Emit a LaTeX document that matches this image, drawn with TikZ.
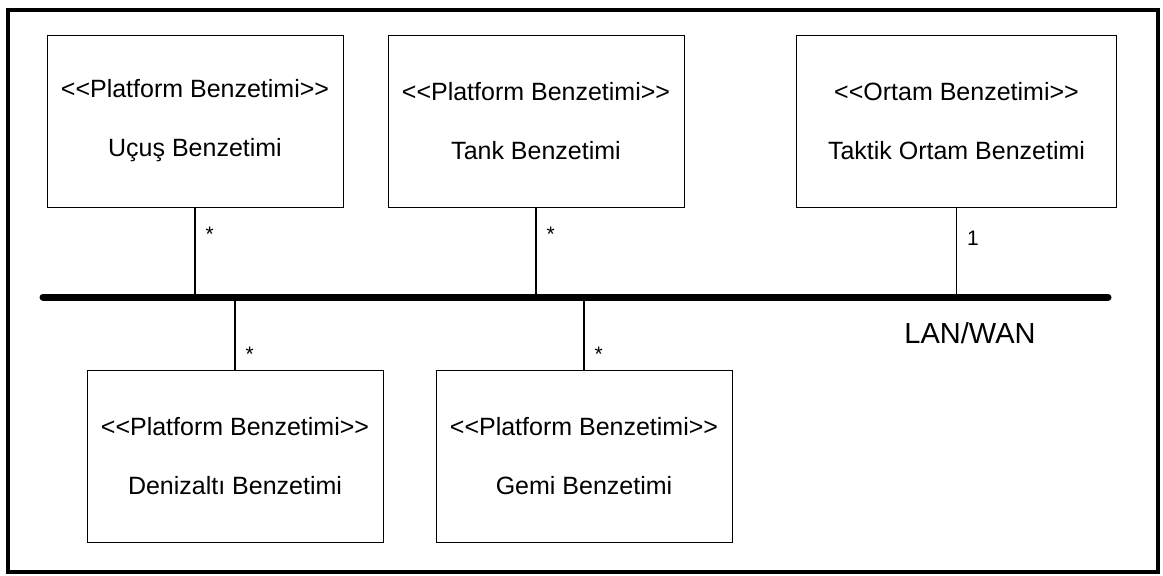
\documentclass[tikz,border=0pt]{standalone}
\usepackage{fontspec}
\newfontfamily\simfont{Liberation Sans}
\usetikzlibrary{positioning}

\begin{document}
\begin{tikzpicture}[x=0.5pt,y=-0.5pt,auto,semithick]

  \tikzstyle{sim}=[rectangle,draw,line width=0.5pt,minimum width=148pt,
                   minimum height=86pt,align=center,
                   font=\simfont\fontsize{12.5}{14}\selectfont]
  \tikzstyle{link}=[line width=0.6pt]
  \tikzstyle{mult}=[font=\simfont\fontsize{10.5}{12}\selectfont,inner sep=5pt]

  \useasboundingbox (0,0) rectangle (1163,575);
  \draw[line width=2pt] (8,10) rectangle (1158,572);

  \node[sim] (UCS) at (195,121)   {<<Platform Benzetimi>> \\[15.5pt] Uçuş Benzetimi};
  \node[sim] (TNK) at (536,121)   {<<Platform Benzetimi>> \\[15.5pt] Tank Benzetimi};
  \node[sim,minimum width=160pt] (TKT) at (956.5,121)
                                  {<<Ortam Benzetimi>> \\[15.5pt] Taktik Ortam Benzetimi};

  \node[sim] (DNZ) at (235,456.5) {<<Platform Benzetimi>> \\[15.5pt] Denizaltı Benzetimi};
  \node[sim] (GMI) at (584,456.5) {<<Platform Benzetimi>> \\[15.5pt] Gemi Benzetimi};

  % network bus
  \coordinate (BUSW) at (43,297);
  \coordinate (BUSE) at (1108,297);
  \draw[line width=3.5pt,line cap=round] (BUSW) -- (BUSE);
  \node[font=\simfont\fontsize{14.5}{16}\selectfont] (NET) at (970,333) {LAN/WAN};

  \path[link]
  (UCS) edge node[mult,pos=.3]  {*} (UCS |- BUSW)
  (TNK) edge node[mult,pos=.3]  {*} (TNK |- BUSW)
  (TKT) edge node[mult,pos=.34] {1} (TKT |- BUSW)

  (DNZ |- BUSW) edge node[mult,pos=.78] {*} (DNZ)
  (GMI |- BUSW) edge node[mult,pos=.78] {*} (GMI)
  ;
\end{tikzpicture}
\end{document}
